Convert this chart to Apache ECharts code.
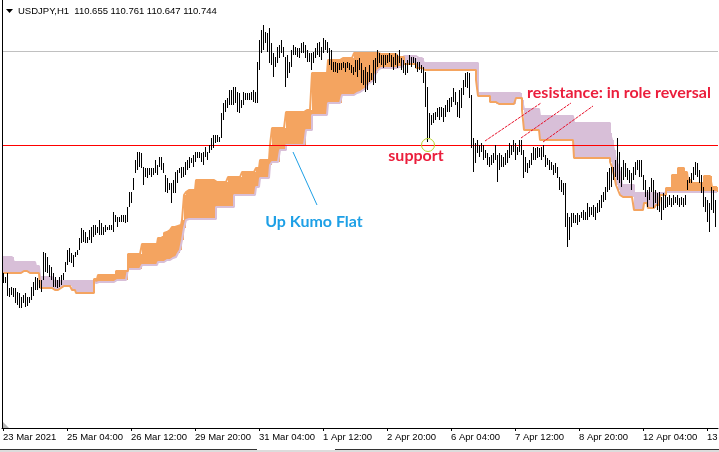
<!DOCTYPE html>
<html>
<head>
<meta charset="utf-8">
<script src="https://cdn.jsdelivr.net/npm/echarts@6/dist/echarts.min.js"></script>
<style>
  html, body { margin: 0; padding: 0; background: #fff; }
  #chart { width: 719px; height: 452px; }
</style>
</head>
<body>
<div id="chart"></div>
<script>
// USDJPY H1 with Ichimoku cloud
const headerText = 'USDJPY,H1  110.655 110.761 110.647 110.744';
const timeLabels = ['23 Mar 2021', '25 Mar 04:00', '26 Mar 12:00', '29 Mar 20:00', '31 Mar 04:00',
  '1 Apr 12:00', '2 Apr 20:00', '6 Apr 04:00', '7 Apr 12:00', '8 Apr 20:00', '12 Apr 04:00', '13 Apr 12:00'];
const barsPerLabel = 32;

const barHigh = [
  108.52,108.48,108.52,108.37,108.38,108.37,108.37,108.33,108.32,108.28,
  108.30,108.32,108.28,108.28,108.38,108.43,108.48,108.47,108.45,108.45,
  108.73,108.72,108.68,108.60,108.58,108.52,108.48,108.45,108.48,108.50,
  108.52,108.63,108.75,108.77,108.72,108.70,108.73,108.75,108.87,108.97,
  108.95,108.93,108.88,108.95,108.98,109.00,109.00,108.98,109.05,109.02,
  108.98,109.00,108.98,109.00,109.00,109.13,109.10,109.08,109.08,109.10,
  109.10,109.10,109.18,109.33,109.33,109.47,109.65,109.73,109.73,109.72,
  109.58,109.57,109.57,109.57,109.57,109.57,109.65,109.60,109.68,109.68,
  109.62,109.50,109.47,109.42,109.42,109.45,109.53,109.55,109.57,
  109.58,109.58,109.63,109.65,109.68,109.67,109.70,109.73,109.73,109.73,
  109.72,109.73,109.78,109.73,109.80,109.87,109.90,109.90,109.90,109.88,
  110.12,110.22,110.25,110.27,110.35,110.35,110.38,110.38,110.33,110.32,
  110.25,110.33,110.32,110.32,110.32,110.33,110.35,110.33,110.63,110.85,
  110.95,111.00,110.93,110.92,110.97,110.82,110.72,110.68,110.78,110.80,
  110.85,110.78,110.68,110.70,110.63,110.75,110.80,110.78,110.77,110.77,
  110.82,110.83,110.80,110.75,110.72,110.72,110.73,110.77,110.82,110.83,
  110.78,110.87,110.85,110.83,110.77,110.75,110.63,110.63,110.62,110.62,
  110.62,110.63,110.62,110.63,110.62,110.60,110.58,
  110.65,110.65,110.67,110.62,110.55,110.58,110.53,110.60,110.52,110.65,
  110.67,110.75,110.72,110.70,110.70,110.70,110.70,110.72,110.70,110.68,
  110.72,110.70,110.75,110.67,110.65,110.62,110.65,110.70,110.68,110.68,
  110.67,110.63,110.63,110.60,110.58,110.53,110.38,110.12,110.10,110.12,
  110.13,110.17,110.18,110.18,110.17,110.20,110.25,110.27,110.28,110.37,
  110.33,110.23,110.35,110.37,110.45,110.52,110.53,110.52,110.30,109.87,
  109.82,109.85,109.80,109.82,109.80,109.75,109.72,109.68,109.70,109.72,
  109.80,109.70,109.72,109.70,109.68,109.72,109.75,109.82,109.80,109.85,
  109.82,109.78,109.85,109.85,109.75,109.68,109.62,109.65,109.72,
  109.78,109.77,109.78,109.77,109.78,109.80,109.70,109.67,109.65,109.63,
  109.60,109.62,109.58,109.48,109.45,109.42,109.42,109.12,109.08,109.12,
  109.12,109.10,109.12,109.10,109.13,109.15,109.13,109.22,109.18,109.18,
  109.20,109.18,109.22,109.25,109.30,109.33,109.38,109.53,109.57,109.58,
  109.58,109.65,109.87,109.73,109.58,109.65,109.62,109.57,109.55,109.52,
  109.58,109.63,109.65,109.65,109.65,109.50,109.45,109.35,109.38,109.47,
  109.45,109.35,109.32,109.33,109.28,109.32,109.30,109.28,109.30,109.27,
  109.30,109.28,109.30,109.27,109.28,109.27,109.30,109.45,109.48,109.52,
  109.58,109.63,109.62,109.55,109.50,109.38,109.28,109.25,109.22,109.38,
  109.35,109.25
];

const barLow = [
  108.42,108.42,108.29,108.28,108.30,108.28,108.22,108.20,108.17,108.17,
  108.22,108.18,108.19,108.22,108.25,108.29,108.35,108.35,108.37,108.33,
  108.45,108.53,108.52,108.48,108.45,108.38,108.38,108.37,108.38,108.40,
  108.45,108.53,108.60,108.63,108.62,108.58,108.68,108.70,108.75,108.82,
  108.83,108.82,108.82,108.85,108.82,108.88,108.90,108.92,108.90,108.90,
  108.90,108.93,108.95,108.95,108.95,108.93,109.03,108.98,109.03,109.03,
  109.03,109.02,109.03,109.18,109.22,109.35,109.52,109.55,109.58,109.57,
  109.40,109.48,109.47,109.50,109.48,109.50,109.52,109.50,109.58,109.55,
  109.52,109.33,109.32,109.35,109.22,109.32,109.32,109.42,109.52,
  109.47,109.48,109.50,109.55,109.57,109.62,109.58,109.63,109.67,109.67,
  109.63,109.60,109.68,109.65,109.72,109.75,109.77,109.82,109.83,109.83,
  109.87,110.05,110.13,110.17,110.20,110.20,110.20,110.22,110.13,110.12,
  110.17,110.20,110.25,110.25,110.25,110.25,110.23,110.22,110.22,110.55,
  110.72,110.75,110.82,110.73,110.62,110.60,110.48,110.58,110.62,110.67,
  110.72,110.68,110.38,110.47,110.52,110.58,110.70,110.70,110.68,110.67,
  110.72,110.72,110.67,110.63,110.63,110.55,110.62,110.67,110.70,110.68,
  110.65,110.72,110.75,110.72,110.60,110.55,110.53,110.53,110.52,110.55,
  110.55,110.57,110.53,110.57,110.55,110.52,110.50,
  110.53,110.48,110.55,110.42,110.40,110.33,110.35,110.43,110.45,110.40,
  110.42,110.58,110.62,110.60,110.57,110.60,110.62,110.63,110.58,110.55,
  110.60,110.57,110.62,110.55,110.52,110.50,110.52,110.60,110.58,110.62,
  110.57,110.53,110.55,110.52,110.42,110.18,109.83,109.87,110.00,110.02,
  110.05,110.08,110.05,110.08,110.03,110.08,110.13,110.13,110.18,110.23,
  110.20,110.08,110.07,110.17,110.30,110.38,110.37,110.27,109.77,109.53,
  109.62,109.72,109.68,109.73,109.65,109.67,109.60,109.58,109.60,109.62,
  109.65,109.43,109.55,109.58,109.58,109.60,109.62,109.67,109.70,109.73,
  109.65,109.70,109.73,109.70,109.47,109.53,109.52,109.57,109.60,
  109.65,109.65,109.67,109.68,109.65,109.68,109.58,109.60,109.55,109.55,
  109.50,109.52,109.47,109.35,109.33,109.30,108.98,108.78,108.85,108.98,
  109.02,109.02,109.00,109.03,109.07,109.05,109.05,109.05,109.08,109.10,
  109.08,109.05,109.12,109.13,109.17,109.23,109.25,109.33,109.35,109.38,
  109.45,109.48,109.45,109.42,109.38,109.45,109.48,109.45,109.42,109.35,
  109.45,109.50,109.55,109.48,109.48,109.35,109.28,109.18,109.25,109.33,
  109.17,109.22,109.15,109.13,109.05,109.15,109.17,109.18,109.20,109.18,
  109.20,109.22,109.20,109.18,109.20,109.18,109.20,109.35,109.42,109.42,
  109.45,109.50,109.48,109.42,109.32,109.18,109.13,109.03,108.93,109.15,
  109.12,108.98
];

// Senkou Span A (leading span, shifted forward)
const spanA = [
  108.52,108.52,108.52,108.52,108.52,108.52,108.52,108.52,108.52,108.52,
  108.54,108.54,108.54,
  108.52,108.52,108.52,108.52,108.52,108.52,
  108.37,108.37,108.37,108.37,108.37,108.37,108.37,
  108.35,108.35,108.35,
  108.37,
  108.39,108.39,108.39,108.39,108.39,
  108.35,108.35,
  108.32,108.32,108.32,108.32,108.32,108.32,108.32,108.32,108.32,
  108.46,108.46,
  108.50,108.50,108.50,108.50,108.50,108.50,108.50,108.50,108.50,
  108.54,108.54,108.54,108.54,108.54,108.54,
  108.71,108.71,108.71,108.71,108.71,108.71,108.71,
  108.81,108.81,108.81,108.81,108.81,108.81,108.81,108.81,
  108.87,108.87,108.89,108.92,108.93,108.95,108.97,108.98,108.98,108.99,108.99,109.00,109.05,109.30,109.33,
  109.35,109.35,109.35,109.35,
  109.45,109.45,109.45,109.45,109.45,109.45,109.45,109.45,109.45,109.45,
  109.43,109.43,109.43,109.43,109.43,109.43,
  109.48,109.48,109.48,109.48,109.48,109.48,109.48,
  109.53,109.53,109.53,109.53,109.53,109.53,109.53,
  109.57,109.57,
  109.65,109.65,109.65,109.65,109.65,
  109.80,
  109.97,109.97,109.97,109.97,109.97,109.97,109.97,
  110.13,110.13,110.13,110.13,110.13,110.13,110.13,110.13,110.13,110.13,
  110.15,110.15,110.15,
  110.52,110.52,110.52,110.52,110.52,110.52,110.52,110.52,
  110.65,110.65,110.65,110.65,110.65,110.65,110.65,
  110.67,110.67,110.67,110.67,110.67,110.67,
  110.72,110.72,110.72,110.72,110.72,110.72,110.72,110.72,110.72,110.72,110.72,110.72,
  110.71,110.71,110.71,110.71,110.71,110.71,110.71,110.71,110.71,110.71,
  110.68,110.68,110.68,
  110.61,110.61,110.61,110.61,110.61,110.61,
  110.57,110.57,110.57,110.57,
  110.55,110.55,110.55,110.55,110.55,110.55,110.55,110.55,110.55,110.55,
  110.55,110.55,110.55,110.55,110.55,110.55,110.55,110.55,110.55,110.55,
  110.55,110.55,110.55,110.55,110.55,110.55,
  110.45,
  110.29,110.29,110.29,110.29,110.29,110.29,
  110.23,110.23,110.23,
  110.21,110.21,110.21,110.21,110.21,110.21,110.21,110.21,110.21,110.21,
  110.27,110.27,110.27,
  110.15,
  109.95,109.95,109.95,109.95,109.95,109.95,109.95,109.95,
  109.85,109.85,109.85,109.85,109.85,109.85,109.85,109.85,109.85,109.85,
  109.85,109.85,109.85,109.85,109.85,109.85,109.85,
  109.67,109.67,109.67,109.67,109.67,109.67,109.67,109.67,109.67,109.67,
  109.67,109.67,109.67,109.67,109.67,109.67,109.67,109.67,
  109.63,109.58,109.50,109.40,109.35,109.30,
  109.28,109.28,109.28,109.28,109.28,109.28,
  109.15,109.15,109.15,109.15,109.15,
  109.22,109.22,
  109.17,109.17,109.17,109.17,
  109.20,109.20,
  109.30,109.30,109.30,
  109.37,109.37,109.37,
  109.50,109.50,109.50,
  109.57,109.57,109.57,
  109.53,109.53,
  109.45,109.45,
  109.42,109.42,109.42,109.42,109.42,109.42,
  109.49,109.49,109.49,109.49,
  109.38,109.38,109.38
];

// Senkou Span B (leading span, shifted forward)
const spanB = [
  108.68,108.68,108.68,108.68,108.68,108.68,
  108.63,108.63,108.63,108.63,108.63,108.63,108.63,108.63,108.63,108.63,108.63,
  108.59,108.59,
  108.48,108.48,108.48,108.48,108.48,108.48,108.48,
  108.44,108.44,108.44,108.44,108.44,108.44,108.44,108.44,108.44,108.44,
  108.44,108.44,108.44,108.44,108.44,108.44,108.44,108.44,108.44,108.44,
  108.42,108.42,
  108.43,108.43,108.43,108.43,108.43,108.43,108.43,108.43,108.43,
  108.45,108.45,108.45,108.45,108.45,108.45,
  108.56,108.56,108.56,108.56,108.56,108.56,108.56,
  108.60,108.60,108.60,108.60,108.60,108.60,108.60,108.60,
  108.63,108.63,108.63,108.64,108.65,108.65,108.66,108.67,108.68,108.70,108.72,108.75,108.85,108.97,109.05,
  109.06,109.06,109.06,109.06,109.06,109.06,109.06,109.06,109.06,109.06,109.06,109.06,109.06,109.06,
  109.18,109.18,109.18,109.18,109.18,109.18,109.18,109.18,109.18,
  109.30,109.30,109.30,109.30,109.30,109.30,109.30,109.30,109.30,109.30,109.30,
  109.38,109.38,
  109.47,109.47,109.47,109.47,109.47,
  109.60,
  109.63,109.63,109.63,109.63,
  109.75,109.75,109.75,
  109.80,109.80,109.80,109.80,109.80,109.80,109.80,109.80,109.80,109.80,
  109.95,109.95,109.95,
  110.10,110.10,110.10,110.10,110.10,110.10,110.10,110.10,
  110.22,110.22,110.22,110.22,110.22,110.22,110.22,
  110.30,110.30,110.30,110.30,110.30,110.30,
  110.31,110.32,110.33,110.34,110.35,110.37,110.39,110.41,110.43,110.45,110.48,110.52,110.55,
  110.57,110.57,110.57,110.57,110.57,110.57,110.57,110.57,110.57,
  110.58,110.58,110.58,
  110.69,110.69,110.69,110.69,110.69,110.69,
  110.67,110.67,110.67,110.67,
  110.62,110.62,110.62,110.62,110.62,110.62,110.62,110.62,110.62,110.62,
  110.62,110.62,110.62,110.62,110.62,110.62,110.62,110.62,110.62,110.62,
  110.62,110.62,110.62,110.62,110.62,110.62,110.62,
  110.32,110.32,110.32,110.32,110.32,110.32,110.32,110.32,110.32,110.32,
  110.32,110.32,110.32,110.32,110.32,110.32,110.32,110.32,110.32,110.32,
  110.32,110.32,
  110.25,
  110.16,110.16,110.16,110.16,110.16,110.16,110.16,110.16,
  110.09,110.09,110.09,110.09,110.09,110.09,110.09,110.09,110.09,110.09,
  110.09,110.09,110.09,110.09,110.09,110.09,110.09,
  110.02,110.02,110.02,110.02,110.02,110.02,110.02,110.02,110.02,110.02,
  110.02,110.02,110.02,110.02,110.02,110.02,110.02,110.02,
  109.92,109.85,109.75,109.65,109.60,109.53,
  109.40,109.40,109.40,109.40,109.40,109.40,
  109.32,109.32,109.32,109.32,109.32,109.32,109.32,109.32,109.32,109.32,
  109.32,109.32,109.32,109.32,109.32,109.32,
  109.33,109.33,109.33,109.33,109.33,109.33,109.33,109.33,109.33,109.33,
  109.33,109.33,109.33,109.33,109.33,109.33,109.33,109.33,109.33,109.33,
  109.33,109.33,109.33,109.33,109.33,109.33
];

const supportLevel = 109.80;
const bidLevel = 110.744;

// Hand-drawn trend lines: [barIndex, price] pairs
const resistanceLines = [
  [[241, 109.84], [269, 110.22]],
  [[259, 109.87], [284, 110.22]],
  [[270, 109.83], [295, 110.19]]
];
const kumoPointer = [[145, 109.73], [157, 109.20]];

const KUMO_UP = '#F4A460';   // SandyBrown
const KUMO_DOWN = '#D8BFD8'; // Thistle
const AXIS_FONT = '"Liberation Sans", Arial, sans-serif';
const NOTE_FONT = 'Lato, "Open Sans", sans-serif';

const slots = spanA.map((_, i) => String(i));

const chart = echarts.init(document.getElementById('chart'), null, { renderer: 'canvas' });

const trendLineData = resistanceLines.map(seg => [
  { coord: seg[0], lineStyle: { color: '#e8102a', width: 1, type: [3, 1] } },
  { coord: seg[1] }
]);

chart.setOption({
  animation: false,
  backgroundColor: '#ffffff',
  grid: { left: 2, right: 1, top: 0, bottom: 24, containLabel: false, outerBoundsMode: 'none' },
  xAxis: {
    type: 'category',
    data: slots,
    boundaryGap: true,
    axisLine: { lineStyle: { color: '#000', width: 1 } },
    axisTick: {
      show: true,
      alignWithLabel: true,
      length: 3,
      interval: idx => idx % barsPerLabel === 0,
      lineStyle: { color: '#000' }
    },
    axisLabel: {
      interval: idx => idx % barsPerLabel === 0,
      formatter: (v, idx) => (idx % barsPerLabel === 0 ? (timeLabels[idx / barsPerLabel] || '') : ''),
      align: 'left',
      margin: 4,
      color: '#000',
      fontSize: 9.5,
      fontFamily: AXIS_FONT,
      hideOverlap: false
    },
    splitLine: { show: false }
  },
  yAxis: {
    type: 'value',
    min: 106.97,
    max: 111.25,
    show: false,
    splitLine: { show: false }
  },
  series: [
    {
      name: 'kumo',
      type: 'custom',
      z: 1,
      data: spanA.map((a, i) => [i, a, spanB[i]]),
      encode: { x: 0, y: [1, 2] },
      renderItem(params, api) {
        const i = api.value(0), a = api.value(1), b = api.value(2);
        const pa = api.coord([i, a]);
        const pb = api.coord([i, b]);
        const w = api.size([1, 0])[0];
        const x0 = Math.round(pa[0] - w / 2);
        const x1 = Math.round(pa[0] + w / 2);
        return {
          type: 'rect',
          shape: { x: x0, y: Math.min(pa[1], pb[1]), width: x1 - x0, height: Math.abs(pa[1] - pb[1]) },
          style: { fill: a >= b ? KUMO_UP : KUMO_DOWN }
        };
      }
    },
    {
      name: 'Senkou Span B',
      type: 'line',
      z: 2,
      data: spanB,
      step: 'middle',
      showSymbol: false,
      lineStyle: { color: KUMO_DOWN, width: 2 }
    },
    {
      name: 'Senkou Span A',
      type: 'line',
      z: 2,
      data: spanA,
      step: 'middle',
      showSymbol: false,
      lineStyle: { color: KUMO_UP, width: 2 },
      markLine: {
        silent: true,
        symbol: ['none', 'none'],
        label: { show: false },
        data: [
          { yAxis: bidLevel, lineStyle: { color: '#c0c0c0', width: 1, type: 'solid' } },
          { yAxis: supportLevel, lineStyle: { color: '#ff0000', width: 1, type: 'solid' } },
          ...trendLineData,
          [
            { coord: kumoPointer[0], lineStyle: { color: '#1ea0e6', width: 1, type: 'solid' } },
            { coord: kumoPointer[1] }
          ]
        ]
      }
    },
    {
      name: 'USDJPY',
      type: 'custom',
      z: 5,
      data: barHigh.map((h, i) => [i, barLow[i], h]),
      encode: { x: 0, y: [1, 2] },
      renderItem(params, api) {
        const i = api.value(0);
        const lo = api.coord([i, api.value(1)]);
        const hi = api.coord([i, api.value(2)]);
        const x = Math.round(lo[0]) + 0.5;
        const y1 = Math.round(lo[1]);
        let y2 = Math.round(hi[1]);
        if (y2 >= y1) y2 = y1 - 1;
        return {
          type: 'line',
          shape: { x1: x, y1: y1, x2: x, y2: y2 },
          style: { stroke: '#000', lineWidth: 1 }
        };
      }
    }
  ],
  graphic: [
    // chart frame and window strip
    { type: 'line', shape: { x1: 2.5, y1: 0, x2: 2.5, y2: 429 }, style: { stroke: '#000', lineWidth: 1 }, z: 50 },
    { type: 'polygon', shape: { points: [[3, 422], [3, 428], [9, 428]] }, style: { fill: '#b4b4b4' }, z: 50 },
    { type: 'rect', shape: { x: 0, y: 450, width: 719, height: 2 }, style: { fill: '#dcdcdc' }, z: 50 },
    { type: 'rect', shape: { x: 0, y: 449, width: 257, height: 1 }, style: { fill: '#333' }, z: 50 },
    { type: 'rect', shape: { x: 335, y: 449, width: 384, height: 1 }, style: { fill: '#333' }, z: 50 },
    // symbol header
    { type: 'polygon', shape: { points: [[6, 9], [13, 9], [9.5, 13]] }, style: { fill: '#000' }, z: 50 },
    {
      type: 'text', left: 18, top: 6, z: 50,
      style: { text: headerText, fill: '#000', font: '9.5px ' + AXIS_FONT }
    },
    // annotations
    {
      type: 'circle', shape: { cx: 428, cy: 145, r: 6.5 },
      style: { fill: 'none', stroke: '#b8d432', lineWidth: 1 }, z: 40
    },
    {
      type: 'text', x: 416, y: 156, z: 40,
      style: { text: 'support', fill: '#eb1e3c', font: 'bold 16px ' + NOTE_FONT, textAlign: 'center', textVerticalAlign: 'middle' }
    },
    {
      type: 'text', x: 619, y: 93, z: 40,
      style: { text: 'resistance: in role reversal', fill: '#eb1e3c', font: 'bold 16px ' + NOTE_FONT, textAlign: 'center', textVerticalAlign: 'middle' }
    },
    {
      type: 'text', x: 314, y: 222, z: 40,
      style: { text: 'Up Kumo Flat', fill: '#1ea0e6', font: 'bold 16px ' + NOTE_FONT, textAlign: 'center', textVerticalAlign: 'middle' }
    }
  ]
});
</script>
</body>
</html>
